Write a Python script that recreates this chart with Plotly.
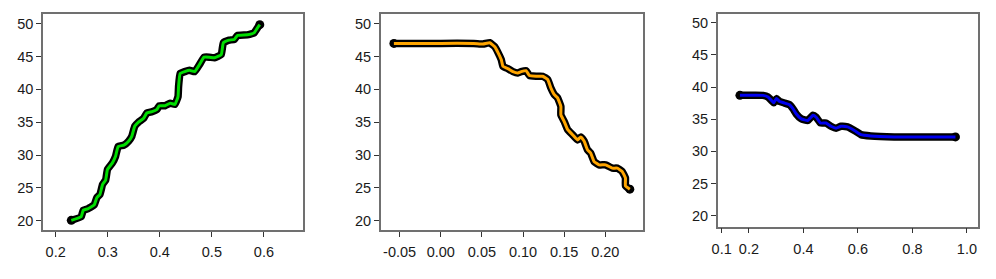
import plotly.graph_objects as go

# Panel 1 (green)
x1 = [0.230, 0.249, 0.253, 0.2615, 0.274, 0.279, 0.285, 0.290, 0.296, 0.2995, 0.309, 0.315,
      0.320, 0.331, 0.340, 0.346, 0.352, 0.359, 0.369, 0.375, 0.385, 0.394, 0.399, 0.410,
      0.420, 0.429, 0.435, 0.436, 0.439, 0.448, 0.457, 0.467, 0.476, 0.485, 0.495, 0.505,
      0.518, 0.522, 0.533, 0.543, 0.549, 0.568, 0.581, 0.587, 0.592]
y1 = [20.05, 20.6, 21.6, 21.8, 22.4, 23.5, 24.0, 25.5, 26.2, 27.8, 28.8, 29.8,
      31.3, 31.5, 32.1, 32.8, 34.4, 35.0, 35.6, 36.4, 36.6, 36.9, 37.5, 37.5,
      37.9, 37.7, 38.9, 40.4, 42.4, 42.7, 42.9, 42.7, 43.75, 44.9, 44.9, 44.8,
      45.3, 47.1, 47.5, 47.6, 48.2, 48.3, 48.6, 49.3, 49.85]

# Panel 2 (orange)
x2 = [-0.057, 0.000, 0.040, 0.0514, 0.0595, 0.0656, 0.0696, 0.0736, 0.0756, 0.0816, 0.0877,
      0.0937, 0.0977, 0.1037, 0.1078, 0.1158, 0.1239, 0.1300, 0.1339, 0.1380, 0.1420,
      0.1460, 0.1460, 0.1501, 0.1541, 0.1601, 0.1662, 0.1702, 0.1743, 0.1783, 0.1822,
      0.1864, 0.1924, 0.2004, 0.2085, 0.2145, 0.2205, 0.2245, 0.2245, 0.2298]
y2 = [47.0, 47.0, 47.0, 46.9, 47.1, 46.5, 45.6, 44.5, 43.5, 43.15, 42.7,
      42.5, 42.7, 42.85, 42.1, 42.0, 42.0, 41.5, 40.2, 39.2, 38.7,
      37.4, 36.1, 35.1, 33.9, 33.1, 32.3, 32.75, 32.1, 30.8, 30.3,
      29.0, 28.5, 28.5, 28.0, 28.0, 27.5, 26.5, 25.3, 24.8]

# Panel 3 (blue)
x3 = [0.167, 0.252, 0.270, 0.283, 0.291, 0.301, 0.313, 0.331, 0.349, 0.362, 0.374, 0.392,
      0.416, 0.435, 0.447, 0.4625, 0.483, 0.501, 0.520, 0.538, 0.562, 0.587, 0.611, 0.647,
      0.733, 0.958]
y3 = [38.7, 38.7, 38.45, 37.9, 37.55, 38.2, 37.75, 37.5, 37.25, 36.6, 35.8, 35.05,
      34.8, 35.6, 35.3, 34.4, 34.4, 33.9, 33.6, 33.9, 33.8, 33.25, 32.6, 32.4,
      32.25, 32.25]

colors = ["#00DD00", "#FFA500", "#0000EE"]
yticks = [20, 25, 30, 35, 40, 45, 50]
xticks1 = [0.2, 0.3, 0.4, 0.5, 0.6]
xticks2 = [-0.05, 0.0, 0.05, 0.10, 0.15, 0.20]
xticks2_txt = ["-0.05", "0.00", "0.05", "0.10", "0.15", "0.20"]
xticks3 = [0.1, 0.2, 0.4, 0.6, 0.8, 1.0]
xticks3_txt = ["0.1", "0.2", "0.4", "0.6", "0.8", "1.0"]

fig = go.Figure()
series = [(x1, y1), (x2, y2), (x3, y3)]
for i, (xs, ys) in enumerate(series):
    ax = "" if i == 0 else str(i + 1)
    n = len(xs)
    sizes = [9] + [0] * (n - 2) + [9]
    fig.add_trace(go.Scatter(x=xs, y=ys, mode="lines+markers",
                             line=dict(color="black", width=7.5, shape="spline", smoothing=0.35),
                             marker=dict(color="black", size=sizes, opacity=1,
                                         line=dict(width=0, color="black")),
                             xaxis="x" + ax, yaxis="y" + ax, showlegend=False, hoverinfo="skip"))
    fig.add_trace(go.Scatter(x=xs, y=ys, mode="lines",
                             line=dict(color=colors[i], width=3, shape="spline", smoothing=0.35),
                             xaxis="x" + ax, yaxis="y" + ax, showlegend=False, hoverinfo="skip"))

W, H = 996, 279
font = dict(family="Liberation Sans, Arial, sans-serif", size=14.5, color="#1a1a1a")
common = dict(showline=True, mirror=True, linecolor="#707070", linewidth=1.5,
              ticks="outside", ticklen=5, tickcolor="#333333", tickwidth=1,
              showgrid=False, zeroline=False, tickfont=font)
xcommon = dict(common, ticklabelstandoff=3)

def yd(top, bot):
    return [1 - bot / H, 1 - top / H]

fig.update_layout(
    width=W, height=H, margin=dict(l=0, r=0, t=0, b=0),
    paper_bgcolor="white", plot_bgcolor="white",
    xaxis=dict(domain=[37.3 / W, 298.8 / W], range=[0.1758, 0.675], tickvals=xticks1,
               ticktext=[str(v) for v in xticks1], anchor="y", **xcommon),
    yaxis=dict(domain=yd(14.3, 230), range=[18.58, 51.43], tickvals=yticks, anchor="x", **common),
    xaxis2=dict(domain=[377 / W, 641 / W], range=[-0.073, 0.246], tickvals=xticks2,
                ticktext=xticks2_txt, anchor="y2", **xcommon),
    yaxis2=dict(domain=yd(14.3, 230), range=[18.58, 51.43], tickvals=yticks, anchor="x2", **common),
    xaxis3=dict(domain=[716 / W, 977.7 / W], range=[0.0854, 1.040], tickvals=xticks3,
                ticktext=xticks3_txt, anchor="y3", **xcommon),
    yaxis3=dict(domain=yd(14.3, 226.7), range=[18.29, 51.3], tickvals=yticks, anchor="x3", **common),
)

fig.write_html("out.html")
